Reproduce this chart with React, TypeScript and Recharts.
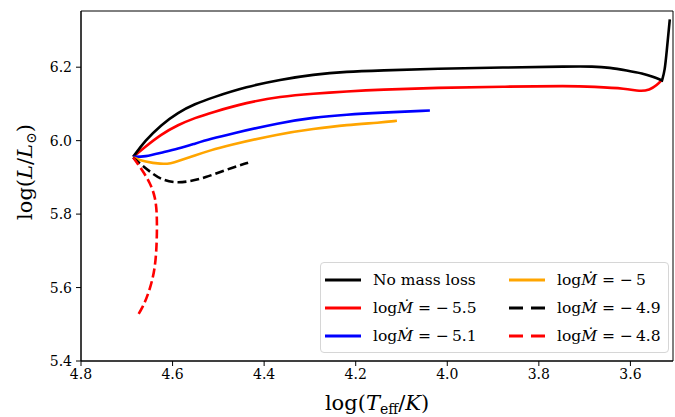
import React from "react";
import { LineChart, Line, XAxis, YAxis, Legend, ReferenceArea } from "recharts";

const FONT = '"DejaVu Serif", "Liberation Serif", serif';

// axis ticks
const xTicks = [4.8, 4.6, 4.4, 4.2, 4.0, 3.8, 3.6];
const yTicks = [5.4, 5.6, 5.8, 6.0, 6.2];

// tracks: log Teff and log L (corner point repeated so the spline keeps it sharp)
const noLossTeff = [4.686, 4.66, 4.625, 4.588, 4.551, 4.514, 4.438, 4.365, 4.293, 4.219, 4.147, 4.023, 3.879, 3.732, 3.682, 3.645, 3.608, 3.573, 3.551, 3.531, 3.531, 3.531, 3.525, 3.521, 3.514, 3.514];
const noLossLum = [5.956, 6.0, 6.043, 6.077, 6.1, 6.117, 6.147, 6.166, 6.18, 6.188, 6.191, 6.196, 6.199, 6.202, 6.202, 6.199, 6.191, 6.183, 6.174, 6.164, 6.164, 6.164, 6.19, 6.24, 6.33, 6.33];

const m55Teff = [4.686, 4.66, 4.625, 4.588, 4.551, 4.514, 4.438, 4.365, 4.293, 4.219, 4.147, 4.023, 3.879, 3.732, 3.682, 3.608, 3.58, 3.558, 3.542, 3.531];
const m55Lum = [5.956, 5.983, 6.017, 6.043, 6.062, 6.077, 6.104, 6.12, 6.128, 6.134, 6.139, 6.144, 6.147, 6.149, 6.147, 6.142, 6.134, 6.138, 6.151, 6.166];

const m51Teff = [4.686, 4.66, 4.625, 4.588, 4.551, 4.516, 4.475, 4.365, 4.293, 4.219, 4.147, 4.038];
const m51Lum = [5.956, 5.956, 5.967, 5.978, 5.992, 6.005, 6.018, 6.049, 6.063, 6.071, 6.076, 6.082];

const m50Teff = [4.686, 4.66, 4.625, 4.603, 4.588, 4.551, 4.516, 4.486, 4.365, 4.293, 4.219, 4.147, 4.11];
const m50Lum = [5.954, 5.942, 5.936, 5.938, 5.944, 5.96, 5.974, 5.985, 6.019, 6.032, 6.043, 6.049, 6.054];

const m49Teff = [4.686, 4.669, 4.647, 4.625, 4.595, 4.566, 4.529, 4.483, 4.435];
const m49Lum = [5.954, 5.935, 5.913, 5.894, 5.885, 5.888, 5.899, 5.921, 5.94];

const m48Teff = [4.686, 4.667, 4.649, 4.638, 4.634, 4.634, 4.638, 4.652, 4.665, 4.678, 4.678];
const m48Lum = [5.954, 5.921, 5.885, 5.847, 5.804, 5.73, 5.648, 5.585, 5.547, 5.52, 5.52];

const zip = (xs: number[], ys: number[]) => xs.map((x, i) => ({ x, y: ys[i] }));

const series = [
  { key: "none", rate: "", color: "#000000", dashed: false, data: zip(noLossTeff, noLossLum) },
  { key: "m55", rate: "5.5", color: "#ff0000", dashed: false, data: zip(m55Teff, m55Lum) },
  { key: "m51", rate: "5.1", color: "#0000ff", dashed: false, data: zip(m51Teff, m51Lum) },
  { key: "m50", rate: "5", color: "#ffa500", dashed: false, data: zip(m50Teff, m50Lum) },
  { key: "m49", rate: "4.9", color: "#000000", dashed: true, data: zip(m49Teff, m49Lum) },
  { key: "m48", rate: "4.8", color: "#ff0000", dashed: true, data: zip(m48Teff, m48Lum) },
];

const drawOrder = ["m55", "none", "m51", "m50", "m49", "m48"];

const LegendLabel = ({ rate }: { rate: string }) =>
  rate === "" ? (
    <span>No mass loss</span>
  ) : (
    <span>
      log<i>{"\u1E40"}</i> = {"\u2212"}
      <span style={{ marginLeft: 3 }}>{rate}</span>
    </span>
  );

const renderLegend = () => (
  <div
    style={{
      boxSizing: "border-box",
      width: 349,
      height: 91,
      border: "1px solid #d6d6d6",
      borderRadius: 4,
      background: "rgba(255,255,255,0.85)",
      padding: "3px 0 0 4px",
      display: "grid",
      gridTemplateColumns: "184px 160px",
      gridTemplateRows: "repeat(3, 28px)",
      gridAutoFlow: "column",
      fontFamily: FONT,
      fontSize: 15.5,
      color: "#000",
    }}
  >
    {series.map((s) => (
      <div key={s.key} style={{ display: "flex", alignItems: "center" }}>
        <svg width={36} height={4} style={{ marginRight: 12 }}>
          <line
            x1={0}
            y1={2}
            x2={36}
            y2={2}
            stroke={s.color}
            strokeWidth={3}
            strokeDasharray={s.dashed ? "14 8" : undefined}
          />
        </svg>
        <LegendLabel rate={s.rate} />
      </div>
    ))}
  </div>
);

const xLabel = () => (
  <text x={377} y={410} textAnchor="middle" fontFamily={FONT} fontSize={21} fill="#000">
    log(<tspan fontStyle="italic">T</tspan>
    <tspan fontSize={14} dy={4}>eff</tspan>
    <tspan dy={-4}>/</tspan>
    <tspan fontStyle="italic">K</tspan>)
  </text>
);

const yLabel = () => (
  <text
    x={0}
    y={0}
    transform="translate(32,172) rotate(-90)"
    textAnchor="middle"
    fontFamily={FONT}
    fontSize={21}
    fill="#000"
  >
    log(<tspan fontStyle="italic">L</tspan>/<tspan fontStyle="italic">L</tspan>
    <tspan fontSize={14} dy={4}>{"\u2299"}</tspan>
    <tspan dy={-4}>)</tspan>
  </text>
);

const tickStyle = { fontFamily: FONT, fontSize: 14, fill: "#000" };

const App = () => {
  return (
    <div style={{ position: "absolute", left: 0, top: 0, width: 675, height: 417, background: "#fff" }}>
      <LineChart width={675} height={417} margin={{ top: 11, right: 2, bottom: 0, left: 0 }}>
        <XAxis
          dataKey="x"
          type="number"
          reversed
          domain={[3.507, 4.8]}
          allowDataOverflow
          ticks={xTicks}
          tickFormatter={(v: number) => v.toFixed(1)}
          height={56}
          tickSize={5}
          tickMargin={3}
          tick={tickStyle}
          stroke="#000"
          label={{ content: xLabel }}
        />
        <YAxis
          dataKey="y"
          type="number"
          domain={[5.4, 6.353]}
          allowDataOverflow
          ticks={yTicks}
          tickFormatter={(v: number) => v.toFixed(1)}
          width={81}
          tickSize={5}
          tickMargin={4}
          tick={tickStyle}
          stroke="#000"
          label={{ content: yLabel }}
        />
        <ReferenceArea x1={3.507} x2={4.8} y1={5.4} y2={6.353} fill="none" stroke="#000" strokeWidth={1} ifOverflow="visible" />
        {drawOrder.map((k) => {
          const s = series.find((d) => d.key === k)!;
          return (
            <Line
              key={s.key}
              data={s.data}
              dataKey="y"
              type="basis"
              stroke={s.color}
              strokeWidth={2.6}
              strokeDasharray={s.dashed ? "9 4" : undefined}
              dot={false}
              activeDot={false}
              isAnimationActive={false}
            />
          );
        })}
        <Legend
          layout="vertical"
          align="center"
          verticalAlign="middle"
          content={renderLegend}
          wrapperStyle={{ position: "absolute", left: 320, top: 262, width: 349, height: 91 }}
        />
      </LineChart>
    </div>
  );
};

export default App;
